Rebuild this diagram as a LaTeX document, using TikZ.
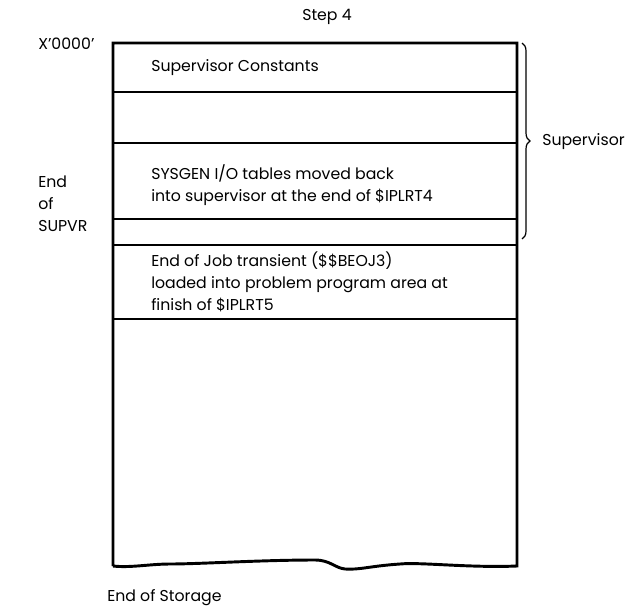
\documentclass[tikz,border=0pt]{standalone}
\usepackage{fontspec}
\setmainfont{Poppins}
\usetikzlibrary{decorations.pathreplacing}
\begin{document}
\begin{tikzpicture}[x=0.75pt,y=-0.75pt,
  lbl/.style={font=\fontsize{11.8}{16.5}\selectfont, inner sep=0pt, align=left},
  outer/.style={line width=2.2pt},
  sep/.style={line width=1.2pt}]
\useasboundingbox (0,0) rectangle (638,613);
% boundary coordinates
\coordinate (tl) at (113,43);
\coordinate (tr) at (517,43);
\coordinate (bl) at (113,566);
\coordinate (br) at (517,566);
% separators
\foreach \y/\n in {92/a,143/b,219/c,245/d,319/e}{
  \coordinate (\n L) at (113,\y);
  \coordinate (\n R) at (517,\y);
  \draw[sep] (\n L) -- (\n R);
}
% outer box with wavy bottom
\draw[outer] (bl) -- (tl) -- (tr) -- (br)
  .. controls (470,568) and (420,562) .. (400,564)
  .. controls (370,566) and (360,570) .. (345,569)
  .. controls (335,568) and (330,560) .. (315,560)
  .. controls (260,560) and (200,564) .. (170,564)
  .. controls (150,564) and (130,568) .. (bl);
% texts
\node[lbl, anchor=south] (step) at (327,25) {Step 4};
\node[lbl, anchor=west] (x0) at (38,44) {X\symbol{"27}0000\symbol{"27}};
\node[lbl, anchor=north west, align=left] (eos) at (38,176) {End\\of\\SUPVR};
\node[lbl, anchor=west] (sc) at (151,68) {Supervisor Constants};
\node[lbl, anchor=west] (sys) at (151,185) {SYSGEN I/O tables moved back\\into supervisor at the end of \$IPLRT4};
\node[lbl, anchor=west] (eoj) at (151,282) {End of Job transient (\$\$BEOJ3)\\loaded into problem program area at\\finish of \$IPLRT5};
\node[lbl, anchor=west] (stor) at (107,598) {End of Storage};
% brace
\coordinate (bt) at (522,43);
\coordinate (bb) at (522,239);
\draw[line width=0.9pt, decorate, decoration={brace, amplitude=6pt}] (bt) -- (bb);
\node[lbl, anchor=west] (sup) at (542,142) {Supervisor};
\end{tikzpicture}
\end{document}
